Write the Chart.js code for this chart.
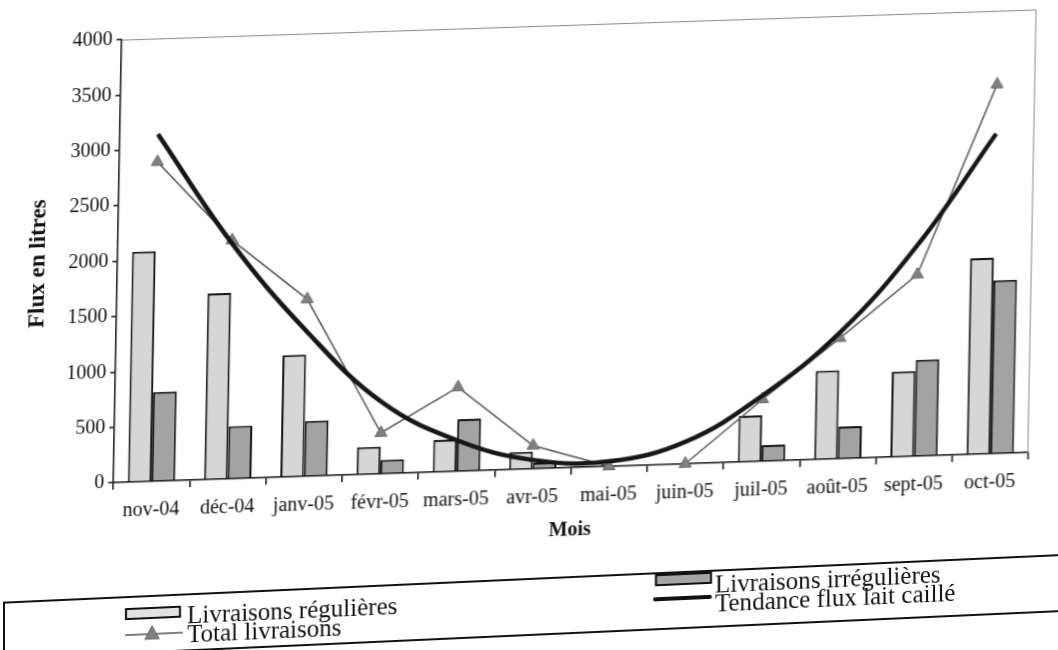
<!DOCTYPE html>
<html lang="fr">
<head>
<meta charset="utf-8">
<title>Flux en litres par mois</title>
<script src="https://cdn.jsdelivr.net/npm/chart.js@4.4.1/dist/chart.umd.min.js"></script>
<style>
  html, body { margin: 0; padding: 0; background: #fff; }
  body { width: 1058px; height: 650px; overflow: hidden; position: relative; font-family: "Liberation Serif", serif; color: #111; }
  /* the scanned page is slightly sheared */
  #page { position: absolute; left: 0; top: 0; width: 1058px; height: 650px;
          transform-origin: 529px 325px; transform: matrix(1, -0.033, -0.0187, 1, 0, 0); }
  #legende { position: absolute; left: 0; top: 0; width: 1058px; height: 650px;
             transform-origin: 529px 325px; transform: matrix(1, -0.045, 0, 1, 0, 0); }
  .cadre { position: absolute; left: 3px; top: 578px; width: 1100px; height: 58px;
           border: 2px solid #111; box-sizing: border-box; }
  .item { position: absolute; font-size: 25px; line-height: 25px; white-space: nowrap; }
  .swatch { position: absolute; border: 2px solid #111; box-sizing: border-box; }
</style>
</head>
<body>
<div id="page">
  <canvas id="flux-chart" width="1058" height="560"></canvas>
</div>
<div id="legende">
  <div class="cadre"></div>
  <div class="swatch" style="left:125px; top:590px; width:56px; height:12px; background:#e2e2e2;"></div>
  <div class="item" style="left:187px; top:587px;">Livraisons régulières</div>
  <svg style="position:absolute; left:125px; top:608px;" width="58" height="16">
    <line x1="0" y1="9" x2="58" y2="9" stroke="#555" stroke-width="1.5"/>
    <polygon points="27,1 34,14 20,14" fill="#808080" stroke="#666" stroke-width="1"/>
  </svg>
  <div class="item" style="left:187px; top:606px;">Total livraisons</div>
  <div class="swatch" style="left:655px; top:580px; width:57px; height:12px; background:#a5a5a5;"></div>
  <div class="item" style="left:715px; top:580px;">Livraisons irrégulières</div>
  <div style="position:absolute; left:653px; top:603px; width:59px; height:4px; background:#111; border-radius:2px;"></div>
  <div class="item" style="left:715px; top:599px;">Tendance flux lait caillé</div>
</div>
<script>
const mois = ["nov-04", "déc-04", "janv-05", "févr-05", "mars-05", "avr-05",
              "mai-05", "juin-05", "juil-05", "août-05", "sept-05", "oct-05"];
const livraisonsRegulieres   = [2080, 1680, 1100, 245, 290, 155, 0, 0, 415, 800, 770, 1770];
const livraisonsIrregulieres = [805, 475, 500, 125, 470, 55, 0, 0, 145, 290, 870, 1565];
const totalLivraisons        = [2885, 2155, 1600, 370, 760, 210, 0, 0, 560, 1090, 1640, 3335];
const tendanceFlux           = [3135, 2125, 1310, 650, 280, 80, 45, 200, 595, 1140, 1910, 2890];
const yMax = 4000;
const yPas = 500;

const police = "'Liberation Serif', 'Times New Roman', serif";

// grey frame on top and right of the plot area
const cadrePlot = {
  id: "cadrePlot",
  beforeDatasetsDraw(chart) {
    const { ctx, chartArea: a } = chart;
    ctx.save();
    ctx.strokeStyle = "#8a8a8a";
    ctx.lineWidth = 1;
    ctx.beginPath();
    ctx.moveTo(a.left, a.top + 0.5);
    ctx.lineTo(a.right - 0.5, a.top + 0.5);
    ctx.lineTo(a.right - 0.5, a.bottom);
    ctx.stroke();
    ctx.restore();
  }
};

const ctx = document.getElementById("flux-chart").getContext("2d");
new Chart(ctx, {
  type: "bar",
  data: {
    labels: mois,
    datasets: [
      {
        type: "line",
        label: "Tendance flux lait caillé",
        data: tendanceFlux,
        borderColor: "#161616",
        borderWidth: 4.5,
        pointRadius: 0,
        tension: 0.4,
        fill: false,
        order: 0,
      },
      {
        type: "line",
        label: "Total livraisons",
        data: totalLivraisons,
        borderColor: "#555",
        borderWidth: 1.5,
        pointStyle: "triangle",
        pointRadius: 7,
        pointBackgroundColor: "#808080",
        pointBorderColor: "#6a6a6a",
        pointBorderWidth: 1,
        tension: 0,
        fill: false,
        clip: false,
        order: 1,
      },
      {
        label: "Livraisons régulières",
        data: livraisonsRegulieres,
        backgroundColor: "#d6d6d6",
        borderColor: "#111",
        borderWidth: 2,
        categoryPercentage: 0.62,
        barPercentage: 1.0,
        order: 2,
      },
      {
        label: "Livraisons irrégulières",
        data: livraisonsIrregulieres,
        backgroundColor: "#a3a3a3",
        borderColor: "#111",
        borderWidth: 2,
        categoryPercentage: 0.62,
        barPercentage: 1.0,
        order: 2,
      },
    ],
  },
  options: {
    responsive: false,
    animation: false,
    devicePixelRatio: 1,
    layout: { padding: { left: 10, top: 26, right: 27, bottom: 14 } },
    plugins: {
      legend: { display: false },
      tooltip: { enabled: false },
    },
    scales: {
      x: {
        grid: { offset: true, drawOnChartArea: false, drawTicks: true, tickLength: 7, color: "#111", lineWidth: 1.5 },
        border: { display: true, color: "#111", width: 1.5 },
        ticks: { color: "#111", font: { family: police, size: 20 }, padding: 10, maxRotation: 0, autoSkip: false },
        title: {
          display: true, text: "Mois", color: "#111",
          font: { family: police, size: 20, weight: "bold" },
          padding: { top: 4, bottom: 2 },
        },
        afterFit(s) { s.height = 77; },
      },
      y: {
        min: 0,
        max: yMax,
        ticks: {
          stepSize: yPas, color: "#111", font: { family: police, size: 20 }, padding: 4,
          callback: (v) => String(v),
        },
        grid: { drawOnChartArea: false, drawTicks: true, tickLength: 5, color: "#111", lineWidth: 1.5 },
        border: { display: true, color: "#111", width: 1.5 },
        title: {
          display: true, text: "Flux en litres", color: "#111",
          font: { family: police, size: 23, weight: "bold" },
          padding: { top: 13, bottom: 0 },
        },
        afterFit(s) { s.width = 106; },
      },
    },
  },
  plugins: [cadrePlot],
});
</script>
</body>
</html>
